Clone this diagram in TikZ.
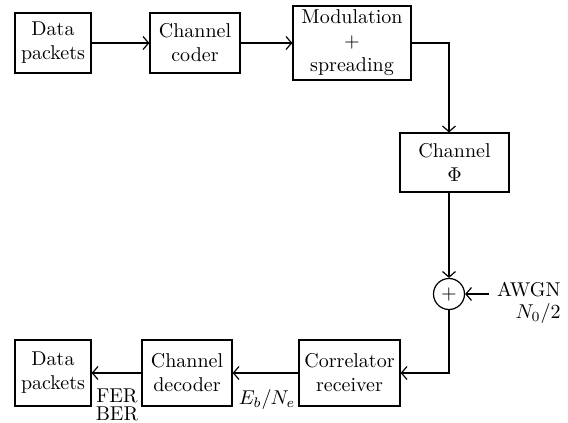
\documentclass[tikz,border=0pt]{standalone}
\usepackage{amsmath}
\usetikzlibrary{arrows.meta}

\begin{document}
\begin{tikzpicture}[x=0.5pt,y=-0.5pt,
	block/.style={draw,semithick,align=center,inner sep=0pt},
	flow/.style={-{Straight Barb[length=2.8pt,width=6.5pt]},semithick}]
	\useasboundingbox (0,0) rectangle (568,423);

	% Nodes
	\node[block,minimum width=38pt,minimum height=30pt] (dpin) at (53,43) {Data\\packets};
	\node[block,minimum width=45pt,minimum height=30pt] (coder) at (195,43) {Channel\\coder};
	\node[block,minimum width=59pt,minimum height=37pt] (mod) at (352,43) {Modulation\\$+$\\spreading};
	\node[block,minimum width=54.5pt,minimum height=29.5pt] (chan) at (454.5,162.5) {Channel\\$\Phi$};
	\node[draw,semithick,circle,minimum size=15.5pt,inner sep=0pt] (sum) at (449,294) {$+$};
	\node[align=right,anchor=east,inner sep=0pt] (awgn) at (561,303) {AWGN\\[-1pt]$N_0/2$};
	\node[block,minimum width=50.5pt,minimum height=33pt] (corr) at (349.5,373) {Correlator\\receiver};
	\node[block,minimum width=45pt,minimum height=33pt] (decoder) at (187,373) {Channel\\decoder};
	\node[block,minimum width=38pt,minimum height=33pt] (dpout) at (53,373) {Data\\packets};
	\node (ebne) at (267,399) {$E_b/N_e$};
	\node[align=center,inner sep=0pt,anchor=south] (rates) at (117,421) {FER\\[-3pt]BER};
	\coordinate (noise) at (489,294);
	\coordinate (turn) at (449,373);

	% Arrows
	\draw[flow] (dpin) -- (coder);
	\draw[flow] (coder) -- (mod);
	\draw[flow] (mod.east) -| (sum |- chan.north);
	\draw[flow] (sum |- chan.south) -- (sum.north);
	\draw[flow] (noise) -- (sum.east);
	\draw[flow] (sum.south) -- (turn) -- (corr.east);
	\draw[flow] (corr) -- (decoder);
	\draw[flow] (decoder) -- (dpout);
\end{tikzpicture}
\end{document}
